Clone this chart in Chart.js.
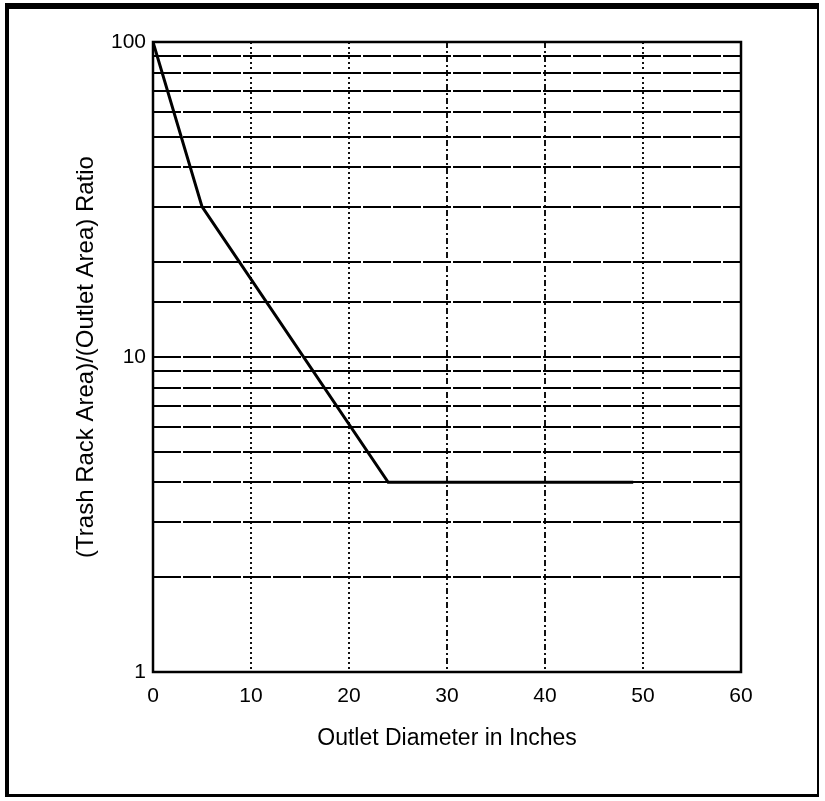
<!doctype html>
<html lang="en">
<head>
  <meta charset="utf-8">
  <title>Trash Rack Area Ratio</title>
  <script src="https://cdn.jsdelivr.net/npm/chart.js"></script>
  <style>
    html, body {
      margin: 0;
      padding: 0;
      background: #fff;
    }

    body {
      width: 825px;
      height: 801px;
      position: relative;
      overflow: hidden;
    }

    #chart {
      position: absolute;
      left: 0;
      top: 0;
    }

    /* heavy box drawn round the whole figure */
    .frame {
      position: absolute;
      left: 5px;
      top: 3px;
      width: 808px;
      height: 785px;
      border-style: solid;
      border-color: #000;
      border-width: 6px 2px 3px 4px;
      pointer-events: none;
    }
  </style>
</head>
<body>
  <canvas id="chart" width="825" height="801"></canvas>
  <div class="frame"></div>

  <script>
    // curve: outlet diameter (in) vs. trash rack / outlet area ratio
    const diameters = [0, 5, 24, 49];
    const ratios = [100, 30, 4, 4];

    // axis ranges and the labels printed on them
    const xMin = 0;
    const xMax = 60;
    const xStep = 10;
    const yMin = 1;
    const yMax = 100;
    const yLabelled = [1, 10, 100];

    const tickFont = { family: "'Liberation Sans Narrow', 'Liberation Sans', Arial, sans-serif", size: 21 };

    // solid box round the plotting area
    const plotFrame = {
      id: 'plotFrame',
      afterDatasetsDraw(chart) {
        const { ctx, chartArea: a } = chart;
        ctx.save();
        ctx.strokeStyle = '#000';
        ctx.lineWidth = 2.5;
        ctx.strokeRect(a.left, a.top, a.right - a.left, a.bottom - a.top);
        ctx.restore();
      }
    };

    new Chart(document.getElementById('chart').getContext('2d'), {
      type: 'line',
      data: {
        datasets: [{
          data: diameters.map((d, i) => ({ x: d, y: ratios[i] })),
          borderColor: '#000',
          borderWidth: 3,
          pointRadius: 0,
          tension: 0,
          fill: false
        }]
      },
      options: {
        responsive: false,
        animation: false,
        layout: {
          padding: { left: 68, right: 84, top: 42, bottom: 45 }
        },
        plugins: {
          legend: { display: false },
          tooltip: { enabled: false }
        },
        scales: {
          x: {
            type: 'linear',
            min: xMin,
            max: xMax,
            afterFit(scale) { scale.height = 84; },
            ticks: {
              stepSize: xStep,
              color: '#000',
              font: tickFont,
              padding: 12,
              maxRotation: 0
            },
            grid: {
              color: ctx => (ctx.tick && (ctx.tick.value === xMin || ctx.tick.value === xMax)) ? 'rgba(0,0,0,0)' : '#111',
              lineWidth: 2,
              drawTicks: false
            },
            border: {
              display: false,
              dash: ctx => (ctx.tick && (ctx.tick.value === 30 || ctx.tick.value === 40)) ? [6, 3, 2, 3] : [2, 3]
            },
            title: {
              display: true,
              text: 'Outlet Diameter in Inches',
              color: '#000',
              font: { family: "'Liberation Sans Narrow', 'Liberation Sans', Arial, sans-serif", size: 23 },
              padding: { top: 4, bottom: 4 }
            }
          },
          y: {
            type: 'logarithmic',
            min: yMin,
            max: yMax,
            afterFit(scale) { scale.width = 85; },
            ticks: {
              color: '#000',
              font: tickFont,
              padding: 7,
              // every decade step keeps its grid line, only 1, 10 and 100 get text
              callback: v => yLabelled.includes(v) ? String(v) : ''
            },
            grid: {
              color: '#000',
              lineWidth: 2,
              drawTicks: false
            },
            border: {
              display: false,
              dash: [28, 2]
            },
            title: {
              display: true,
              text: '(Trash Rack Area)/(Outlet Area) Ratio',
              color: '#000',
              font: { family: "'Liberation Sans', Arial, sans-serif", size: 24 },
              padding: { top: 4, bottom: 4 }
            }
          }
        }
      },
      plugins: [plotFrame]
    });
  </script>
</body>
</html>
